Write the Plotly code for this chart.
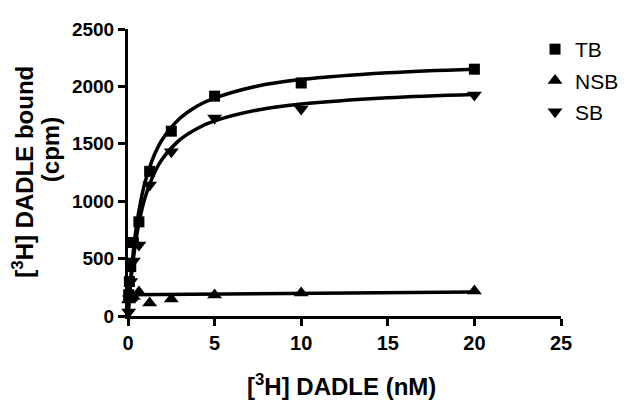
import plotly.graph_objects as go

conc_tb = [0.04, 0.08, 0.16, 0.31, 0.63, 1.25, 2.5, 5, 10, 20]
tb_vals = [185, 300, 430, 640, 820, 1260, 1610, 1915, 2030, 2150]

conc_nsb = [0.04, 0.08, 0.16, 0.31, 0.63, 1.25, 2.5, 5, 10, 20]
nsb_vals = [140, 150, 160, 170, 209, 113, 148, 183, 200, 218]

conc_sb = [0.04, 0.08, 0.16, 0.31, 0.63, 1.25, 2.5, 5, 10, 20]
sb_vals = [35, 150, 300, 480, 618, 1141, 1430, 1725, 1803, 1925]

# Fitted curves
fit_x = [0, 0.1, 0.25, 0.5, 0.75, 1, 1.5, 2, 3, 4, 5, 7.5, 10, 15, 20]
tb_fit = [0, 221, 482, 794, 1012, 1173, 1396, 1542, 1722, 1830, 1898, 2004, 2060, 2119, 2150]
sb_fit = [0, 193, 422, 699, 894, 1039, 1239, 1372, 1536, 1634, 1699, 1795, 1846, 1901, 1930]
nsb_fit_x = [0, 20]
nsb_fit = [185, 208]

x_ticks = [0, 5, 10, 15, 20, 25]
y_ticks = [0, 500, 1000, 1500, 2000, 2500]

FONT = "Liberation Sans, Arial, sans-serif"

fig = go.Figure()

line_style = dict(color="black", width=3.5)
fig.add_trace(go.Scatter(x=fit_x, y=tb_fit, mode="lines", line=dict(line_style, shape="spline"),
                         showlegend=False, cliponaxis=False, hoverinfo="skip"))
fig.add_trace(go.Scatter(x=nsb_fit_x, y=nsb_fit, mode="lines", line=line_style,
                         showlegend=False, cliponaxis=False, hoverinfo="skip"))
fig.add_trace(go.Scatter(x=fit_x, y=sb_fit, mode="lines", line=dict(line_style, shape="spline"),
                         showlegend=False, cliponaxis=False, hoverinfo="skip"))

fig.add_trace(go.Scatter(x=conc_tb, y=tb_vals, mode="markers", name="TB", legendgroup="a",
                         marker=dict(symbol="square", size=11, color="black"), cliponaxis=False))
fig.add_trace(go.Scatter(x=conc_nsb, y=nsb_vals, mode="markers", name="NSB", legendgroup="b",
                         marker=dict(symbol="triangle-up", size=13, color="black"), cliponaxis=False))
fig.add_trace(go.Scatter(x=conc_sb, y=sb_vals, mode="markers", name="SB", legendgroup="c",
                         marker=dict(symbol="triangle-down", size=13, color="black"), cliponaxis=False))

axis_common = dict(
    showline=True, linecolor="black", linewidth=3,
    ticks="outside", ticklen=7, tickwidth=3, tickcolor="black",
    showgrid=False, zeroline=False, automargin=False,
)

fig.update_layout(
    width=640, height=415,
    margin=dict(l=120, r=87, t=21, b=107),
    paper_bgcolor="white", plot_bgcolor="white",
    xaxis=dict(axis_common, range=[0, 25], tickvals=x_ticks, ticktext=[str(v) for v in x_ticks],
               tickfont=dict(family=FONT, size=20, color="black", weight="bold")),
    yaxis=dict(axis_common, range=[0, 2500], tickvals=y_ticks, ticktext=[str(v) for v in y_ticks],
               tickfont=dict(family=FONT, size=19, color="black", weight="bold")),
    legend=dict(x=0.94, y=1.0, xanchor="left", yanchor="top",
                font=dict(family=FONT, size=21, color="black"),
                tracegroupgap=1, bgcolor="rgba(0,0,0,0)"),
    showlegend=True,
)

title_font = dict(family=FONT, size=24, color="black", weight="bold")
fig.add_annotation(text="[<sup>3</sup>H] DADLE (nM)", xref="paper", yref="paper",
                   x=0.494, y=-0.24, xanchor="center", yanchor="middle",
                   showarrow=False, font=title_font)
fig.add_annotation(text="[<sup>3</sup>H] DADLE bound", xref="paper", yref="paper",
                   x=-0.243, y=0.502, xanchor="center", yanchor="middle", textangle=-90,
                   showarrow=False, font=title_font)
fig.add_annotation(text="(cpm)", xref="paper", yref="paper",
                   x=-0.18, y=0.578, xanchor="center", yanchor="middle", textangle=-90,
                   showarrow=False, font=title_font)

fig.write_html("out.html")
